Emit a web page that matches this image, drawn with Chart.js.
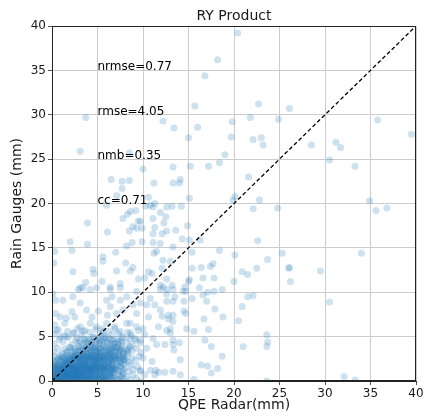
<!DOCTYPE html>
<html>
<head>
<meta charset="utf-8">
<script src="https://cdn.jsdelivr.net/npm/chart.js@4.4.1/dist/chart.umd.min.js"></script>
<style>
  html, body { margin: 0; padding: 0; background: #fff; }
  canvas { display: block; }
</style>
</head>
<body>
<canvas id="chart" width="427" height="419"></canvas>
<script>
// Axis ticks (mm) shared by both axes
const axisTicks = [0, 5, 10, 15, 20, 25, 30, 35, 40];

// 1:1 reference line end points (mm)
const identityLine = [0, 40];

// Verification statistics printed inside the plot
const statLabels = ['nrmse=0.77', 'rmse=4.05', 'nmb=0.35', 'cc=0.71'];
const statGaugeLevels = [35, 30, 25, 20];
const statRadarPos = 5;

// [QPE radar, rain gauge] pairs in mm — large totals and outliers
const heavyRainPairs = [
  [3.7,29.7],[20.4,39.2],[18.2,36.2],[16.8,34.4],[15.7,31.0],[22.7,31.2],[26.1,30.7],[12.2,29.3],
  [13.4,28.5],[16.0,28.6],[19.8,29.2],[21.8,29.7],[24.9,29.5],[35.8,29.4],[39.5,27.8],[15.0,27.4],
  [19.7,27.5],[22.1,27.2],[23.0,27.4],[23.2,26.6],[28.5,26.6],[31.2,26.9],[31.7,26.3],[3.1,25.9],
  [8.5,25.7],[19.0,25.5],[30.5,24.9],[33.3,24.2],[10.0,23.9],[13.3,24.1],[15.2,24.2],[17.2,24.2],
  [18.4,24.6],[21.6,23.0],[6.5,22.7],[7.7,22.5],[8.5,22.6],[7.7,21.7],[11.2,22.3],[13.3,22.3],
  [14.0,22.3],[14.1,22.7],[7.1,20.9],[10.6,20.7],[15.1,20.6],[20.1,20.8],[19.9,20.4],[22.8,20.4],
  [34.9,20.3],[22.1,19.4],[24.8,19.5],[35.6,19.2],[36.8,19.5],[22.6,15.8],[18.4,14.7],[20.1,14.2],
  [25.3,14.4],[23.7,13.7],[34.0,14.4],[20.9,12.3],[21.5,12.0],[22.5,12.7],[26.0,12.7],[26.1,12.8],
  [26.2,11.2],[29.5,12.4],[20.0,11.2],[21.5,9.5],[22.1,9.6],[30.5,8.9],[20.9,8.4],[20.5,6.8],
  [23.6,5.2],[23.7,4.4],[23.6,3.9],[21.0,3.9],[18.7,2.8],[32.1,0.5],[33.3,0.1],[23.6,0.0]
];

// [QPE radar, rain gauge] pairs in mm — moderate totals
const moderateRainPairs = [
  [8.6,19.1],[9.2,19.2],[8.3,18.8],[7.8,18.3],[9.5,18.0],[8.9,17.4],[9.3,17.2],[3.9,17.8],
  [6.1,16.8],[8.5,16.9],[6.0,19.8],[8.8,15.6],[8.2,15.2],[2.0,15.7],[2.2,14.7],[3.9,15.4],
  [0.3,14.6],[0.2,13.3],[2.3,12.3],[4.5,12.6],[4.6,12.1],[5.6,14.0],[5.6,13.5],[7.0,14.5],
  [8.1,13.3],[8.9,12.8],[8.6,12.4],[7.1,12.4],[5.5,11.2],[3.7,11.1],[3.1,10.5],[7.5,11.0],
  [9.5,11.5],[6.4,10.6],
  [10.8,19.8],[11.3,20.0],[10.3,19.7],[11.1,19.6],[11.9,19.0],[12.5,18.5],[12.6,19.6],[13.2,19.7],
  [14.2,19.7],[12.3,17.8],[13.6,17.0],[11.3,17.3],[11.1,16.6],[12.1,16.6],[12.6,16.9],[14.9,17.5],
  [15.1,15.9],[14.3,16.0],[16.3,15.9],[9.9,15.7],[11.1,15.6],[11.9,15.5],[13.3,15.1],[11.5,14.6],
  [11.2,14.4],[15.4,14.5],[12.2,13.6],[13.0,13.5],[15.4,12.7],[16.4,12.8],[17.4,12.9],[17.7,13.2],
  [10.6,12.3],[11.0,12.1],[12.1,12.7],[10.2,11.6],[12.6,11.5],[15.1,11.4],[16.6,11.6],[17.8,11.6],
  [13.2,10.8],[11.9,10.8],[14.6,10.6],[9.7,18.0],[9.9,17.2],[11.1,18.3],[15.0,11.2],
  [14.7,10.1],[15.4,9.3],[16.2,10.5],[16.6,9.7],[17.1,10.0],[17.0,9.0],[17.9,8.1],[18.8,7.2],
  [16.7,7.0],[17.2,5.8],[15.6,5.6],[14.8,5.9],[17.5,3.9],[16.4,1.8],[17.1,1.7],[18.2,1.4],
  [17.5,0.9],[15.6,0.2],[14.1,2.4],[13.3,1.1],[12.4,1.0],[14.5,7.9],[14.7,7.6],[13.3,4.6],
  [13.3,4.1],[13.0,5.9],[13.0,5.4],[12.4,4.1],[11.5,4.1],[11.1,4.8],[11.7,6.1],[12.6,5.7],
  [13.3,6.7],[13.3,7.4],[12.8,7.4],[12.1,7.3],[12.8,7.0],[11.9,8.0],[11.3,8.6],[12.6,9.0],
  [13.3,9.0],[13.5,9.5],[12.6,9.8],[11.9,10.3],[12.6,10.3],[13.3,10.3],[14.4,10.1],[12.2,10.6],
  [10.8,9.3],[10.4,8.6],[10.6,7.2],[10.0,5.9],[10.2,5.2],[10.4,3.7],[11.0,2.2],[10.0,2.6],
  [10.8,1.2],[11.3,0.7],[10.2,0.7],[14.5,9.0],[18.7,10.3],[17.8,10.1],[16.8,4.6],[14.0,4.3],
  [13.4,3.5],[11.4,1.2],[14.1,0.7],[11.7,1.0],[9.7,1.2],[9.7,4.6],
  [0.1,9.8],[0.4,9.1],[1.2,9.1],[0.4,7.6],[0.3,6.3],[0.9,7.2],[1.6,7.1],[1.4,6.5],
  [2.5,7.2],[2.3,9.5],[2.9,10.3],[3.4,10.5],[4.2,10.3],[4.9,10.5],[6.0,9.1],[6.4,10.3],
  [7.5,10.5],[6.6,9.5],[7.5,9.1],[8.2,9.5],[9.3,10.1],[9.7,8.8],[8.9,8.6],[7.8,8.0],
  [9.3,7.6],[7.1,7.6],[6.1,7.4],[5.1,7.9],[3.8,8.0],[4.4,7.2],[3.1,8.8],[2.2,7.8],
  [8.2,6.5],[9.3,6.1],[0.5,5.7],[0.9,5.0],[1.6,5.0],[2.3,5.4],[3.1,6.1],[3.4,5.6],
  [4.2,6.5],[4.9,6.1],[5.6,5.6],[6.0,6.5],[6.9,6.1],[7.5,5.6],[8.6,5.4],[9.1,4.8],
  [8.6,6.5],[6.4,8.4]
];

// [QPE radar, rain gauge] pairs in mm — light totals (the dense core)
const lightRainPairs = [
  [0.1,0.0],[0.2,0.3],[0.4,0.1],[0.5,0.6],[0.7,0.2],[0.8,0.8],[0.3,0.9],[0.6,0.4],[0.9,0.1],[0.1,0.5],
  [0.2,0.7],[0.9,0.5],[0.4,0.3],[0.7,0.9],[0.5,0.0],[0.8,0.3],
  [1.0,0.2],[1.1,0.7],[1.2,0.4],[1.3,0.9],[1.4,0.1],[1.5,0.5],[1.6,0.8],[1.7,0.3],[1.8,0.6],[1.9,0.0],
  [1.1,0.3],[1.3,0.5],[1.5,0.2],[1.6,0.6],[1.8,0.9],[1.9,0.4],[1.2,0.8],[1.4,0.6],
  [2.0,0.3],[2.1,0.8],[2.2,0.1],[2.3,0.5],[2.4,0.9],[2.5,0.2],[2.6,0.6],[2.7,0.4],[2.8,0.8],[2.9,0.1],
  [2.1,0.5],[2.3,0.2],[2.5,0.7],[2.6,0.3],[2.8,0.5],[2.9,0.7],[2.2,0.6],[2.4,0.0],
  [3.0,0.4],[3.1,0.8],[3.2,0.1],[3.3,0.6],[3.4,0.3],[3.5,0.9],[3.6,0.5],[3.7,0.2],[3.8,0.7],[3.9,0.4],
  [3.1,0.2],[3.3,0.9],[3.5,0.1],[3.7,0.6],[3.8,0.3],[3.2,0.5],
  [4.0,0.6],[4.1,0.2],[4.2,0.8],[4.4,0.4],[4.5,0.1],[4.6,0.7],[4.7,0.3],[4.8,0.9],[4.9,0.5],[4.3,0.0],
  [4.1,0.5],[4.5,0.6],[4.8,0.2],[4.3,0.9],
  [5.0,0.3],[5.2,0.7],[5.3,0.1],[5.4,0.5],[5.6,0.9],[5.7,0.2],[5.8,0.6],[5.9,0.4],[5.1,0.8],[5.5,0.0],[5.6,0.4],
  [6.0,0.5],[6.2,0.1],[6.3,0.8],[6.5,0.3],[6.7,0.6],[6.8,0.0],[6.9,0.9],[6.4,0.5],
  [7.1,0.2],[7.3,0.7],[7.5,0.4],[7.7,0.0],[7.8,0.8],[7.9,0.3],
  [8.2,0.5],[8.6,0.1],[8.9,0.7],[9.3,0.3],[9.8,0.0],
  [0.1,1.2],[0.2,1.7],[0.3,1.4],[0.5,1.9],[0.6,1.1],[0.7,1.5],[0.8,1.8],[0.9,1.3],[0.4,1.0],[0.1,1.8],[0.6,1.6],
  [1.0,1.4],[1.1,1.0],[1.2,1.8],[1.3,1.3],[1.4,1.6],[1.5,1.1],[1.6,1.9],[1.7,1.4],[1.8,1.2],[1.9,1.7],
  [1.1,1.5],[1.3,1.9],[1.5,1.5],[1.7,1.0],[1.8,1.6],[1.2,1.2],
  [2.0,1.1],[2.1,1.6],[2.2,1.3],[2.3,1.9],[2.4,1.0],[2.5,1.5],[2.6,1.2],[2.7,1.8],[2.8,1.4],[2.9,1.0],
  [2.0,1.8],[2.2,1.5],[2.4,1.7],[2.5,1.2],[2.7,1.4],[2.8,1.9],[2.9,1.6],[2.3,1.3],
  [3.0,1.2],[3.1,1.7],[3.2,1.4],[3.3,1.0],[3.4,1.8],[3.5,1.3],[3.6,1.6],[3.7,1.1],[3.8,1.9],[3.9,1.5],
  [3.1,1.1],[3.2,1.9],[3.4,1.5],[3.5,1.0],[3.6,1.3],[3.8,1.6],[3.9,1.2],[3.0,1.6],
  [4.0,1.3],[4.1,1.8],[4.2,1.0],[4.3,1.5],[4.4,1.2],[4.5,1.7],[4.6,1.4],[4.7,1.9],[4.8,1.1],[4.9,1.6],
  [4.1,1.4],[4.3,1.1],[4.5,1.3],[4.7,1.5],[4.8,1.8],[4.2,1.7],
  [5.0,1.5],[5.1,1.1],[5.2,1.8],[5.3,1.3],[5.4,1.6],[5.5,1.0],[5.6,1.4],[5.7,1.9],[5.8,1.2],[5.9,1.7],
  [5.2,1.4],[5.5,1.6],[5.8,1.5],
  [6.0,1.2],[6.1,1.7],[6.3,1.4],[6.4,1.0],[6.5,1.9],[6.6,1.5],[6.8,1.1],[6.9,1.6],[6.2,1.5],[6.7,1.3],
  [7.0,1.4],[7.2,1.8],[7.4,1.1],[7.6,1.6],[7.8,1.3],[7.9,1.9],
  [8.1,1.5],[8.4,1.1],[8.7,1.8],[8.9,1.3],[9.4,1.6],[9.7,1.1],
  [0.1,2.4],[0.3,2.8],[0.5,2.2],[0.7,2.6],[0.9,2.9],
  [1.0,2.3],[1.2,2.7],[1.3,2.1],[1.4,2.5],[1.6,2.9],[1.7,2.2],[1.8,2.6],[1.9,2.4],[1.5,2.0],
  [2.0,2.5],[2.1,2.1],[2.2,2.8],[2.3,2.3],[2.4,2.6],[2.5,2.0],[2.6,2.9],[2.7,2.4],[2.8,2.2],[2.9,2.7],
  [2.2,2.4],[2.5,2.6],[2.8,2.9],
  [3.0,2.6],[3.1,2.2],[3.2,2.9],[3.3,2.4],[3.4,2.0],[3.5,2.7],[3.6,2.3],[3.7,2.8],[3.8,2.1],[3.9,2.5],
  [3.2,2.5],[3.4,2.8],[3.6,2.0],[3.8,2.7],
  [4.0,2.3],[4.1,2.8],[4.2,2.1],[4.3,2.6],[4.4,2.9],[4.5,2.2],[4.6,2.5],[4.7,2.0],[4.8,2.7],[4.9,2.4],
  [4.2,2.5],[4.5,2.8],[4.7,2.3],[4.9,2.9],
  [5.0,2.2],[5.1,2.7],[5.2,2.4],[5.3,2.9],[5.4,2.1],[5.5,2.6],[5.6,2.3],[5.7,2.8],[5.8,2.0],[5.9,2.5],
  [5.3,2.5],[5.6,2.7],
  [6.0,2.4],[6.1,2.9],[6.2,2.1],[6.4,2.6],[6.5,2.3],[6.6,2.8],[6.7,2.0],[6.8,2.5],[6.9,2.7],[6.3,2.2],
  [7.0,2.6],[7.2,2.2],[7.3,2.9],[7.5,2.4],[7.6,2.0],[7.8,2.7],[7.9,2.3],
  [8.0,2.5],[8.3,2.9],[8.5,2.1],[8.8,2.6],[9.2,2.3],[9.6,2.8],
  [0.2,3.3],[0.6,3.7],[1.1,3.1],[1.4,3.6],[1.7,3.3],[1.9,3.8],
  [2.1,3.4],[2.3,3.0],[2.5,3.7],[2.6,3.2],[2.8,3.5],[2.9,3.9],
  [3.0,3.2],[3.2,3.7],[3.3,3.0],[3.4,3.5],[3.6,3.9],[3.7,3.3],[3.8,3.6],[3.9,3.1],[3.5,3.4],
  [4.0,3.6],[4.1,3.1],[4.2,3.9],[4.3,3.4],[4.5,3.0],[4.6,3.7],[4.7,3.3],[4.8,3.8],[4.9,3.2],[4.4,3.5],
  [5.0,3.4],[5.1,3.9],[5.3,3.1],[5.4,3.6],[5.5,3.3],[5.7,3.8],[5.8,3.0],[5.9,3.5],[5.2,3.2],
  [6.0,3.7],[6.2,3.3],[6.3,3.9],[6.4,3.0],[6.6,3.5],[6.7,3.2],[6.9,3.8],[6.5,3.6],
  [7.0,3.3],[7.2,3.8],[7.4,3.1],[7.5,3.6],[7.7,3.4],[7.9,3.0],
  [8.1,3.6],[8.3,3.2],[8.6,3.9],[8.8,3.4],[9.3,3.7],[9.8,3.2],
  [0.3,4.2],[0.8,4.7],[1.2,4.4],[1.8,4.9],[2.2,4.1],[2.6,4.6],[2.9,4.3],
  [3.1,4.5],[3.3,4.1],[3.5,4.8],[3.7,4.3],[3.9,4.6],
  [4.0,4.2],[4.2,4.7],[4.4,4.4],[4.6,4.9],[4.8,4.1],[4.9,4.5],
  [5.0,4.8],[5.2,4.3],[5.4,4.6],[5.6,4.1],[5.7,4.5],[5.9,4.9],
  [6.1,4.4],[6.3,4.8],[6.5,4.2],[6.7,4.6],[6.9,4.3],
  [7.1,4.7],[7.3,4.2],[7.6,4.5],[7.8,4.9],[8.2,4.4],[8.5,4.8],[8.8,4.1],[9.2,4.6],[9.7,4.3],
  [0.2,5.3],[0.7,5.8],[1.3,5.1],[1.7,5.6],[2.4,5.4],[2.8,5.9],[3.2,5.2],[3.6,5.7],[4.1,5.5],[4.5,5.0],
  [4.8,5.8],[5.3,5.3],[5.5,5.9],[5.8,5.1],[6.2,5.6],[6.6,5.2],[6.9,5.9],[7.3,5.4],[7.7,5.0],[8.3,5.5],
  [8.7,5.1],[9.5,5.7]
];

// [QPE radar, rain gauge] pairs in mm — further light totals filling the core
const drizzlePairs = [
  [0.15,0.45],[0.35,0.15],[0.55,0.85],[0.75,0.35],[0.95,0.65],[1.05,0.05],[1.25,0.55],[1.45,0.85],
  [1.65,0.25],[1.85,0.75],[2.05,0.15],[2.25,0.95],[2.45,0.45],[2.65,0.75],[2.85,0.25],[3.05,0.65],
  [3.25,0.25],[3.45,0.75],[3.65,0.05],[3.85,0.95],[4.05,0.35],[4.25,0.65],[4.45,0.85],[4.65,0.15],
  [4.85,0.55],[5.05,0.05],[5.25,0.45],[5.45,0.75],[5.65,0.15],[5.85,0.85],[6.05,0.25],[6.25,0.65],
  [6.55,0.85],[6.85,0.35],[7.25,0.15],[7.65,0.55],[0.25,0.55],[0.65,0.05],[1.15,0.95],[1.55,0.35],
  [1.95,0.85],[2.35,0.65],[2.75,0.05],[3.15,0.35],[3.55,0.55],[3.95,0.15],[4.35,0.45],[4.75,0.95],
  [5.15,0.25],[5.55,0.55],[5.95,0.05],[6.45,0.45],[0.05,0.25],[0.45,0.75],[0.85,0.15],[1.35,0.25],
  [1.75,0.65],[2.15,0.35],[2.55,0.85],[2.95,0.45],
  [0.15,1.05],[0.35,1.55],[0.55,1.25],[0.75,1.85],[0.95,1.45],[1.05,1.75],[1.25,1.05],[1.45,1.35],
  [1.65,1.65],[1.85,1.95],[2.05,1.35],[2.25,1.75],[2.45,1.25],[2.65,1.55],[2.85,1.15],[3.05,1.85],
  [3.25,1.25],[3.45,1.65],[3.65,1.95],[3.85,1.35],[4.05,1.55],[4.25,1.25],[4.45,1.95],[4.65,1.65],
  [4.85,1.35],[5.05,1.85],[5.25,1.05],[5.45,1.45],[5.65,1.75],[5.85,1.15],[6.05,1.55],[6.25,1.85],
  [6.45,1.35],[6.65,1.75],[6.85,1.45],[7.15,1.25],[7.45,1.65],[7.75,1.05],[0.45,1.65],[0.85,1.15],
  [1.35,1.85],[1.75,1.25],[2.15,1.95],[2.55,1.45],[2.95,1.75],[3.35,1.15],[3.75,1.45],[4.15,1.05],
  [4.55,1.55],[4.95,1.25],[5.35,1.65],[5.75,1.35],[6.15,1.05],[6.55,1.15],[0.25,1.35],[1.15,1.25],
  [1.95,1.45],[2.75,1.05],[3.55,1.75],[4.35,1.85],
  [0.25,2.15],[0.65,2.45],[1.05,2.65],[1.35,2.35],[1.65,2.15],[1.85,2.85],[2.05,2.25],[2.35,2.65],
  [2.65,2.35],[2.85,2.55],[3.05,2.15],[3.25,2.75],[3.45,2.35],[3.65,2.55],[3.85,2.95],[4.05,2.55],
  [4.25,2.85],[4.45,2.35],[4.65,2.75],[4.85,2.15],[5.05,2.55],[5.25,2.15],[5.45,2.85],[5.65,2.45],
  [5.85,2.75],[6.05,2.15],[6.25,2.65],[6.45,2.45],[6.65,2.25],[6.85,2.85],[7.05,2.35],[7.25,2.55],
  [7.45,2.15],[7.65,2.75],[7.85,2.45],[8.15,2.25],[2.45,2.85],[3.15,2.45],[3.95,2.25],[4.75,2.55],
  [5.55,2.25],[6.35,2.95],[7.15,2.85],[1.55,2.55],[0.85,2.35],
  [3.05,3.45],[3.45,3.15],[3.85,3.85],[4.25,3.25],[4.65,3.55],[5.05,3.15],[5.45,3.85],[5.85,3.35],
  [6.25,3.55],[6.45,3.15],[6.85,3.45],[7.05,3.75],[7.35,3.35],[7.65,3.85],[7.85,3.15],[8.25,3.45],
  [2.45,3.35],[2.05,3.75],[1.55,3.25],[4.45,3.85],[5.25,3.65],[6.05,3.05],[6.65,3.85],[7.45,3.55],
  [8.45,3.65],
  [5.25,4.55],[5.65,4.85],[6.05,4.25],[6.45,4.65],[6.85,4.15],[7.25,4.45],[7.65,4.25],[4.35,4.25],
  [3.65,4.65],[2.75,4.85]
];

const FONT = 'DejaVu Sans';
const TEXT = '#1a1a1a';

const stations = [...lightRainPairs, ...drizzlePairs, ...moderateRainPairs, ...heavyRainPairs]
  .map(([radar, gauge]) => ({ x: radar, y: gauge }));

// Title, stats annotations and the full axes frame
const decorations = {
  id: 'decorations',
  afterDatasetsDraw(chart) {
    const { ctx, scales: { x, y } } = chart;
    ctx.save();
    ctx.fillStyle = '#000';
    ctx.font = `12px "${FONT}"`;
    ctx.textAlign = 'left';
    ctx.textBaseline = 'alphabetic';
    statLabels.forEach((label, i) => {
      ctx.fillText(label, x.getPixelForValue(statRadarPos), y.getPixelForValue(statGaugeLevels[i]));
    });
    ctx.restore();
  },
  afterDraw(chart) {
    const { ctx, chartArea: a } = chart;
    ctx.save();
    ctx.strokeStyle = '#222';
    ctx.lineWidth = 1;
    ctx.strokeRect(Math.round(a.left) + 0.5, Math.round(a.top) + 0.5,
                   Math.round(a.right - a.left) - 1, Math.round(a.bottom - a.top) - 1);
    ctx.fillStyle = TEXT;
    ctx.font = `14px "${FONT}"`;
    ctx.textAlign = 'center';
    ctx.textBaseline = 'middle';
    ctx.fillText('RY Product', (a.left + a.right) / 2, 16);
    ctx.restore();
  }
};

const tickSetup = s => { s.ticks = axisTicks.map(v => ({ value: v })); };

const axisBase = (titleText, titlePadding) => ({
  type: 'linear',
  min: axisTicks[0],
  max: axisTicks[axisTicks.length - 1],
  afterBuildTicks: tickSetup,
  ticks: { color: TEXT, font: { family: FONT, size: 12 }, padding: 2, autoSkip: false, maxRotation: 0 },
  grid: { color: '#cccccc', lineWidth: 1, tickLength: 4, tickColor: '#555' },
  border: { color: '#222', width: 1 },
  title: { display: true, text: titleText, color: TEXT, font: { family: FONT, size: 14 }, padding: titlePadding }
});

new Chart(document.getElementById('chart'), {
  type: 'scatter',
  data: {
    datasets: [
      {
        type: 'line',
        data: identityLine.map(v => ({ x: v, y: v })),
        borderColor: '#000',
        borderWidth: 1.3,
        borderDash: [4, 2.5],
        pointRadius: 0,
        fill: false,
        order: 0
      },
      {
        data: stations,
        backgroundColor: 'rgba(31,119,180,0.22)',
        pointRadius: 3.5,
        pointBorderWidth: 0,
        borderWidth: 0,
        clip: 0,
        order: 1
      }
    ]
  },
  options: {
    responsive: false,
    animation: false,
    events: [],
    layout: { padding: { top: 26, right: 11, left: 0, bottom: 0 } },
    plugins: { legend: { display: false }, tooltip: { enabled: false }, title: { display: false } },
    scales: {
      x: Object.assign(axisBase('QPE Radar(mm)', { top: 0, bottom: 5 }), {
        afterFit: s => { s.height = 38; }
      }),
      y: Object.assign(axisBase('Rain Gauges (mm)', { top: 9, bottom: 0 }), {
        afterFit: s => { s.width = 52; }
      })
    }
  },
  plugins: [decorations]
});
</script>
</body>
</html>
